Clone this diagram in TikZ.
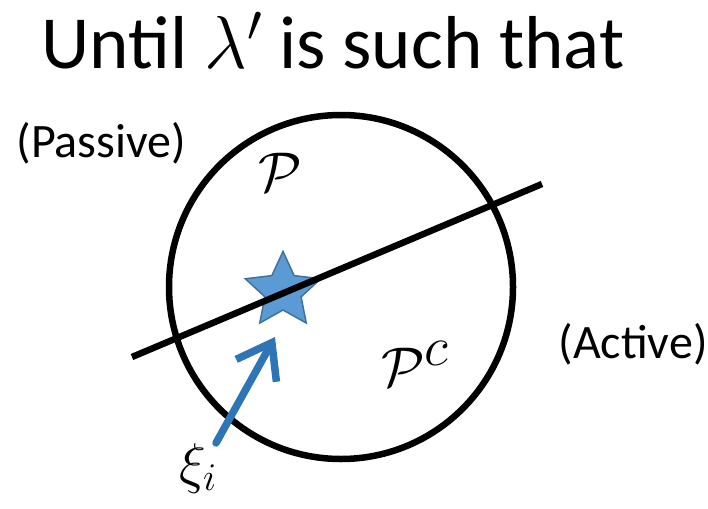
\documentclass[tikz,border=0pt]{standalone}
\usepackage{fix-cm}
\usepackage{fontspec}
\setmainfont{Carlito}
\usepackage{xcolor}
\usetikzlibrary{shapes.geometric, arrows.meta, positioning}

\definecolor{starblue}{HTML}{5B9BD5}
\definecolor{stardark}{HTML}{41719C}
\definecolor{ptrblue}{HTML}{2E75B6}

\begin{document}
\begin{tikzpicture}[
    x=1pt, y=-1pt,
    region/.style={circle, draw=black, line width=6.5pt, minimum size=344pt, inner sep=0pt},
    cut/.style={draw=black, line width=6.5pt},
    pt/.style={star, star points=5, star point ratio=0.48, shape border rotate=180, minimum size=38pt, inner sep=0pt, outer sep=0pt, fill=starblue, draw=stardark, line width=1.5pt},
    ptr/.style={-{Straight Barb[length=32pt, width=46pt]}, line width=7.5pt, line cap=round, draw=ptrblue},
    side/.style={font=\fontsize{48}{58}\selectfont},
    sym/.style={font=\fontsize{56}{64}\selectfont}
  ]
    \useasboundingbox (0,0) rectangle (708,508);

    % Title
    \node[anchor=base, inner sep=0pt, font=\fontsize{75}{80}\selectfont] (title) at (333,69) {Until $\lambda'$ is such that};

    % Region, point and separating line
    \node[region] (ball) at (341,287) {};
    \node[pt] (xistar) at (283,291) {};
    \coordinate (cutL) at (132,357);
    \coordinate (cutR) at (542,184);
    \draw[cut] (cutL) -- (cutR);

    % Labels
    \node[side, anchor=base west] (passive) at (13,157) {(Passive)};
    \node[side, anchor=base west] (active) at (555,358) {(Active)};
    \node[sym] (setP) at (280,172) {$\mathcal{P}$};
    \node[sym] (setPc) at (415,364) {$\mathcal{P}^{\textstyle c}$};
    \node[sym] (xi) at (198,468) {$\xi_i$};

    % Pointer
    \coordinate (ptrtail) at (216,443);
    \coordinate (ptrtip) at (275,337);
    \draw[ptr] (ptrtail) -- (ptrtip);
  \end{tikzpicture}
\end{document}
